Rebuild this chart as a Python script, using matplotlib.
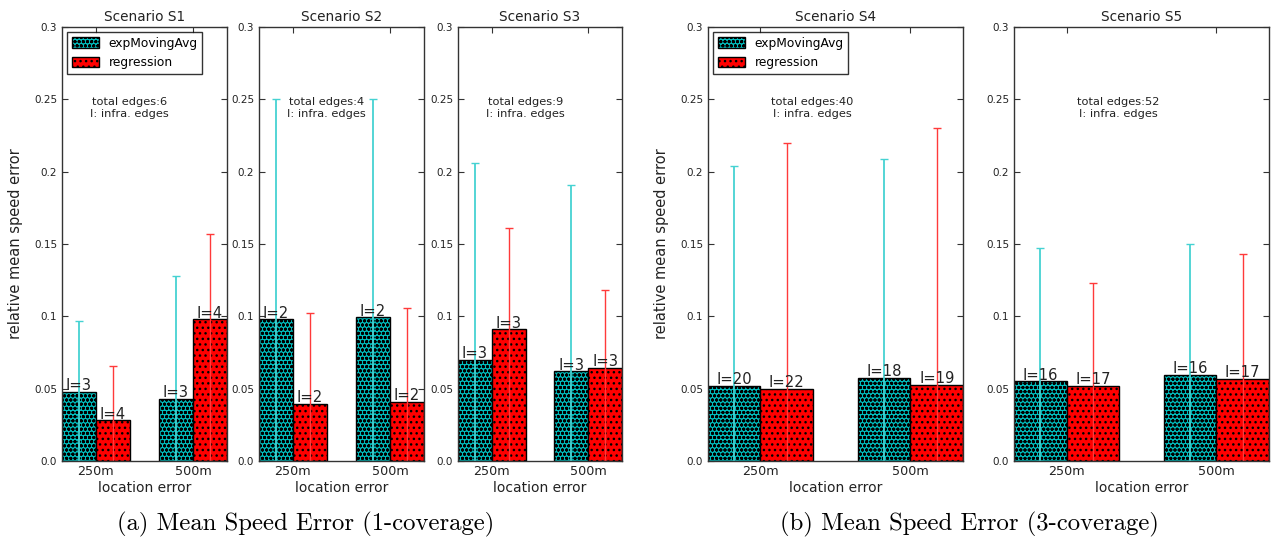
import numpy as np
import matplotlib
matplotlib.use("Agg")
import matplotlib.pyplot as plt

plt.rcParams['font.family'] = 'DejaVu Sans'
plt.rcParams['hatch.linewidth'] = 1.0

scenarios = ['S1', 'S2', 'S3', 'S4', 'S5']
loc_errors = ['250m', '500m']
total_edges = [6, 4, 9, 40, 52]

# mean relative speed error per location error (250m, 500m)
ema_mean = {'S1': [0.048, 0.043], 'S2': [0.098, 0.0995], 'S3': [0.070, 0.062],
            'S4': [0.052, 0.0575], 'S5': [0.0552, 0.0595]}
reg_mean = {'S1': [0.028, 0.098], 'S2': [0.0395, 0.041], 'S3': [0.091, 0.0645],
            'S4': [0.050, 0.0525], 'S5': [0.052, 0.057]}
# upper error (std)
ema_std = {'S1': [0.049, 0.085], 'S2': [0.152, 0.1505], 'S3': [0.136, 0.129],
           'S4': [0.152, 0.1515], 'S5': [0.092, 0.0905]}
reg_std = {'S1': [0.038, 0.059], 'S2': [0.0625, 0.065], 'S3': [0.070, 0.0535],
           'S4': [0.170, 0.1775], 'S5': [0.071, 0.086]}
# number of infrastructure edges
ema_infra = {'S1': [3, 3], 'S2': [2, 2], 'S3': [3, 3], 'S4': [20, 18], 'S5': [16, 16]}
reg_infra = {'S1': [4, 4], 'S2': [2, 2], 'S3': [3, 3], 'S4': [22, 19], 'S5': [17, 17]}

yticks = [0.0, 0.05, 0.1, 0.15, 0.2, 0.25, 0.3]
ytick_labels = ['0.0', '0.05', '0.1', '0.15', '0.2', '0.25', '0.3']

# axes rectangles in figure fraction (left, bottom, width, height)
positions = {'S1': [0.0484, 0.1603, 0.1289, 0.7905],
             'S2': [0.2023, 0.1603, 0.1289, 0.7905],
             'S3': [0.3578, 0.1603, 0.1281, 0.7905],
             'S4': [0.5531, 0.1603, 0.1992, 0.7905],
             'S5': [0.7922, 0.1603, 0.1992, 0.7905]}

fig = plt.figure(figsize=(12.8, 5.49), dpi=100)

width = 0.35
ind = np.arange(len(loc_errors))


def label_bars(ax, rects, counts):
    for rect, n in zip(rects, counts):
        h = rect.get_height()
        ax.text(rect.get_x() + rect.get_width() / 2., h - 0.001, 'I=%d' % n,
                ha='center', va='bottom', fontsize=10.6, color='#222222')


for k, sc in enumerate(scenarios):
    ax = fig.add_axes(positions[sc])
    r1 = ax.bar(ind, ema_mean[sc], width, align='edge', color='#00bdbd', edgecolor='black',
                hatch='oooo', linewidth=1, label='expMovingAvg', zorder=2)
    r2 = ax.bar(ind + width, reg_mean[sc], width, align='edge', color='#ff0000',
                edgecolor='black', hatch='...', linewidth=1, label='regression', zorder=2)
    # error lines run from the axis up to mean + std
    ax.errorbar(ind + width / 2., ema_mean[sc], yerr=[ema_mean[sc], ema_std[sc]], fmt='none',
                ecolor='#45d2d2', elinewidth=1.3, capsize=3, capthick=1, zorder=2.2)
    ax.errorbar(ind + 3 * width / 2., reg_mean[sc], yerr=[reg_mean[sc], reg_std[sc]], fmt='none',
                ecolor='#ff3a3a', elinewidth=1.0, capsize=3, capthick=1, zorder=2.2)
    label_bars(ax, r1, ema_infra[sc])
    label_bars(ax, r2, reg_infra[sc])

    ax.set_xlim(0, 1 + 2 * width)
    ax.set_ylim(0, 0.3)
    ax.set_yticks(yticks)
    ax.set_yticklabels(ytick_labels)
    ax.set_xticks(ind + width)
    ax.set_xticklabels(loc_errors)
    ax.tick_params(direction='in', top=True, right=True, length=4, color='#333333')
    ax.tick_params(axis='y', labelsize=7.5, labelcolor='#222222')
    ax.tick_params(axis='x', labelsize=9.2, labelcolor='#222222', pad=3)
    for sp in ax.spines.values():
        sp.set_color('#333333')
        sp.set_linewidth(1.0)
        sp.set_zorder(3)

    ax.set_title('Scenario %s' % sc, fontsize=9.8, color='#222222', pad=4)
    ax.set_xlabel('location error', fontsize=10, color='#222222', labelpad=2)
    if sc in ('S1', 'S4'):
        ax.set_ylabel('relative mean speed error', fontsize=10.5, color='#222222', labelpad=8)
        leg = ax.legend(loc='upper left', fontsize=8.8, fancybox=False,
                        borderaxespad=0.4, handlelength=2.2, handleheight=0.9)
        leg.get_frame().set_edgecolor('black')
        leg.get_frame().set_linewidth(1.0)

    ax.text(0.41, 0.838, 'total edges:%d\nI: infra. edges' % total_edges[k],
            transform=ax.transAxes, ha='center', va='top', fontsize=8.2,
            multialignment='center', color='#222222')

fig.text(0.239, 0.044, '(a) Mean Speed Error (1-coverage)', ha='center', va='center',
         fontsize=17.8, family='cmr10')
fig.text(0.757, 0.044, '(b) Mean Speed Error (3-coverage)', ha='center', va='center',
         fontsize=17.8, family='cmr10')

fig.savefig('out.png', dpi=100)
